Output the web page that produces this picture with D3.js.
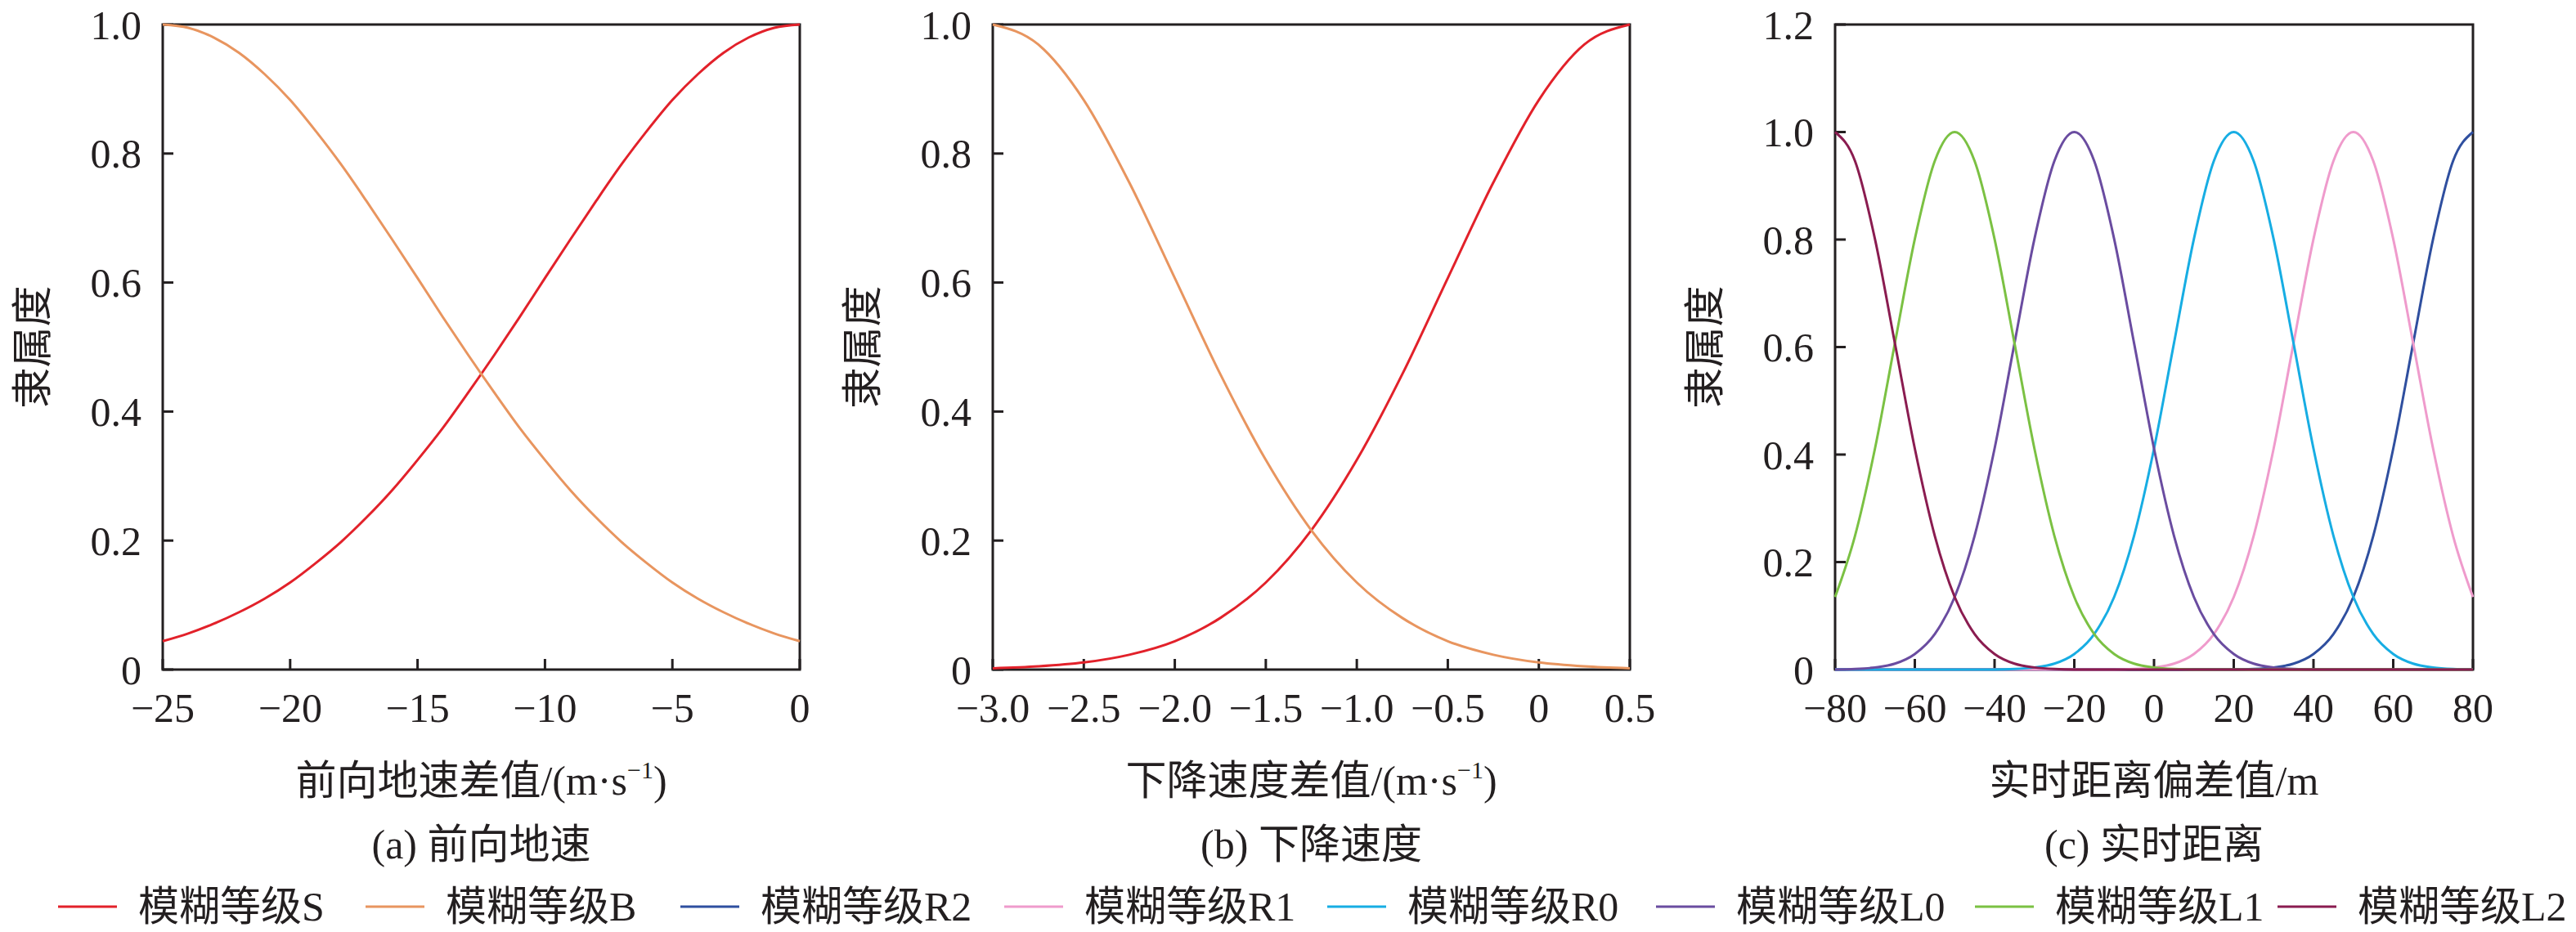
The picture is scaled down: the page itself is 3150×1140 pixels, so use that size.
<html>
<head>
<meta charset="utf-8">
<script src="https://d3js.org/d3.v7.min.js"></script>
<style>
  body { margin: 0; background: #fff; }
  text { font-family: "Liberation Serif", "Noto Sans CJK SC", serif; fill: #231f20; }
</style>
</head>
<body>
<div id="chart"></div>
<script>
// canvas
var W = 3150, H = 1140;
var top0 = 30, bottom0 = 819;

// ---- data ----
// (a) forward ground speed difference
var xA = [-25,-24,-23,-22,-21,-20,-19,-18,-17,-16,-15,-14,-13,-12,-11,-10,-9,-8,-7,-6,-5,-4,-3,-2,-1,0];
var sA = [0.044,0.056,0.071,0.089,0.110,0.135,0.165,0.198,0.236,0.278,0.325,0.375,0.430,0.487,0.546,0.607,0.667,0.726,0.783,0.835,0.883,0.923,0.956,0.980,0.995,1.000];
var bA = [1.000,0.995,0.980,0.956,0.923,0.883,0.835,0.783,0.726,0.667,0.607,0.546,0.487,0.430,0.375,0.325,0.278,0.236,0.198,0.165,0.135,0.110,0.089,0.071,0.056,0.044];

// (b) descent speed difference
var xB = [-3,-2.75,-2.5,-2.25,-2,-1.75,-1.5,-1.25,-1,-0.75,-0.5,-0.25,0,0.25,0.5];
var sB = [0.002,0.005,0.011,0.023,0.044,0.080,0.135,0.216,0.325,0.458,0.607,0.755,0.883,0.969,1.000];
var bB = [1.000,0.969,0.883,0.755,0.607,0.458,0.325,0.216,0.135,0.080,0.044,0.023,0.011,0.005,0.002];

// (c) real-time distance deviation
var xC = [-80,-75,-70,-65,-60,-55,-50,-45,-40,-35,-30,-25,-20,-15,-10,-5,0,5,10,15,20,25,30,35,40,45,50,55,60,65,70,75,80];
var r2C = [0,0,0,0,0,0,0,0,0,0,0,0,0,0,0,0,0,0,0,0,0,0.001,0.004,0.011,0.029,0.066,0.135,0.249,0.411,0.607,0.801,0.946,1];
var r1C = [0,0,0,0,0,0,0,0,0,0,0,0,0,0,0,0.001,0.004,0.011,0.029,0.066,0.135,0.249,0.411,0.607,0.801,0.946,1,0.946,0.801,0.607,0.411,0.249,0.135];
var r0C = [0,0,0,0,0,0,0,0,0,0.001,0.004,0.011,0.029,0.066,0.135,0.249,0.411,0.607,0.801,0.946,1,0.946,0.801,0.607,0.411,0.249,0.135,0.066,0.029,0.011,0.004,0.001,0];
var l0C = [0,0.001,0.004,0.011,0.029,0.066,0.135,0.249,0.411,0.607,0.801,0.946,1,0.946,0.801,0.607,0.411,0.249,0.135,0.066,0.029,0.011,0.004,0.001,0,0,0,0,0,0,0,0,0];
var l1C = [0.135,0.249,0.411,0.607,0.801,0.946,1,0.946,0.801,0.607,0.411,0.249,0.135,0.066,0.029,0.011,0.004,0.001,0,0,0,0,0,0,0,0,0,0,0,0,0,0,0];
var l2C = [1,0.946,0.801,0.607,0.411,0.249,0.135,0.066,0.029,0.011,0.004,0.001,0,0,0,0,0,0,0,0,0,0,0,0,0,0,0,0,0,0,0,0,0];

// ticks
var xTicksA = [-25,-20,-15,-10,-5,0];
var xTicksB = [-3,-2.5,-2,-1.5,-1,-0.5,0,0.5];
var xTicksC = [-80,-60,-40,-20,0,20,40,60,80];
var yTicks = [0,0.2,0.4,0.6,0.8,1.0];
var yTicksC = [0,0.2,0.4,0.6,0.8,1.0,1.2];

// series names and colours
var seriesNames = ["模糊等级S","模糊等级B","模糊等级R2","模糊等级R1","模糊等级R0","模糊等级L0","模糊等级L1","模糊等级L2"];
var seriesColors = ["#e2212a","#e8955f","#2f4f9f","#ef9bcc","#17ade3","#6a4ca0","#7bc143","#8a1c50"];

// legend layout (left edge of each item)
var legendX = [71,447,832,1228,1623,2025,2415,2785];

var svg = d3.select("#chart").append("svg").attr("width", W).attr("height", H);

var minus = function(s){ return s.replace("-", "\u2212"); };
var fmtInt = function(d){ return minus(String(d)); };
var fmtOne = function(d){ return d === 0 ? "0" : minus(d3.format(".1f")(d)); };

function panel(opt){
	var x = d3.scaleLinear().domain(opt.xDomain).range([opt.left, opt.right]);
	var y = d3.scaleLinear().domain(opt.yDomain).range([bottom0, top0]);
	var g = svg.append("g");

	// frame
	g.append("rect").attr("x", opt.left).attr("y", top0)
		.attr("width", opt.right - opt.left).attr("height", bottom0 - top0)
		.attr("fill", "none").attr("stroke", "#231f20").attr("stroke-width", 3);

	// inward ticks
	g.selectAll(".xt").data(opt.xTicks).enter().append("line")
		.attr("x1", function(d){ return x(d); }).attr("x2", function(d){ return x(d); })
		.attr("y1", bottom0).attr("y2", bottom0 - 13)
		.attr("stroke", "#231f20").attr("stroke-width", 3);
	g.selectAll(".yt").data(opt.yTicks).enter().append("line")
		.attr("x1", opt.left).attr("x2", opt.left + 13)
		.attr("y1", function(d){ return y(d); }).attr("y2", function(d){ return y(d); })
		.attr("stroke", "#231f20").attr("stroke-width", 3);

	// tick labels
	g.selectAll(".xl").data(opt.xTicks).enter().append("text")
		.attr("x", function(d){ return x(d); }).attr("y", bottom0 + 64)
		.attr("text-anchor", "middle").style("font-size", "50px")
		.text(opt.xFmt);
	g.selectAll(".yl").data(opt.yTicks).enter().append("text")
		.attr("x", opt.left - 26).attr("y", function(d){ return y(d); })
		.attr("dy", "0.35em").attr("text-anchor", "end").style("font-size", "50px")
		.text(fmtOne);

	// curves
	var line = d3.line().curve(d3.curveMonotoneX)
		.x(function(d){ return x(d[0]); }).y(function(d){ return y(d[1]); });
	opt.series.forEach(function(s){
		g.append("path").datum(d3.zip(opt.xs, s.values))
			.attr("d", line).attr("fill", "none")
			.attr("stroke", seriesColors[s.idx]).attr("stroke-width", 3);
	});

	// titles
	var cx = (opt.left + opt.right) / 2;
	g.append("text").attr("transform", "translate(" + (opt.left - 160) + "," + ((top0 + bottom0) / 2) + ") rotate(-90)")
		.attr("text-anchor", "middle").attr("dy", "0.35em").style("font-size", "50px").text("隶属度");
	var t = g.append("text").attr("x", cx).attr("y", 972).attr("text-anchor", "middle").style("font-size", "50px");
	t.append("tspan").text(opt.xTitle);
	if (opt.unitSup) {
		t.append("tspan").text("(m·s");
		t.append("tspan").attr("dy", -20).style("font-size", "30px").text("\u22121");
		t.append("tspan").attr("dy", 20).text(")");
	}
	g.append("text").attr("x", cx).attr("y", 1050).attr("text-anchor", "middle")
		.style("font-size", "50px").text(opt.sub);
}

panel({left: 199, right: 978, xDomain: [-25, 0], yDomain: [0, 1], xTicks: xTicksA, yTicks: yTicks,
	xFmt: fmtInt, xs: xA, series: [{idx: 0, values: sA}, {idx: 1, values: bA}],
	xTitle: "前向地速差值/", unitSup: true, sub: "(a) 前向地速"});

panel({left: 1214, right: 1993, xDomain: [-3, 0.5], yDomain: [0, 1], xTicks: xTicksB, yTicks: yTicks,
	xFmt: fmtOne, xs: xB, series: [{idx: 0, values: sB}, {idx: 1, values: bB}],
	xTitle: "下降速度差值/", unitSup: true, sub: "(b) 下降速度"});

panel({left: 2244, right: 3024, xDomain: [-80, 80], yDomain: [0, 1.2], xTicks: xTicksC, yTicks: yTicksC,
	xFmt: fmtInt, xs: xC,
	series: [{idx: 2, values: r2C}, {idx: 3, values: r1C}, {idx: 4, values: r0C},
	         {idx: 5, values: l0C}, {idx: 6, values: l1C}, {idx: 7, values: l2C}],
	xTitle: "实时距离偏差值/m", unitSup: false, sub: "(c) 实时距离"});

// legend
var leg = svg.append("g").selectAll("g").data(seriesNames).enter().append("g")
	.attr("transform", function(d, i){ return "translate(" + legendX[i] + ",1109)"; });
leg.append("line").attr("x1", 0).attr("x2", 72).attr("y1", 0).attr("y2", 0)
	.attr("stroke", function(d, i){ return seriesColors[i]; }).attr("stroke-width", 3);
leg.append("text").attr("x", 98).attr("y", 17).style("font-size", "50px").text(function(d){ return d; });
</script>
</body>
</html>
